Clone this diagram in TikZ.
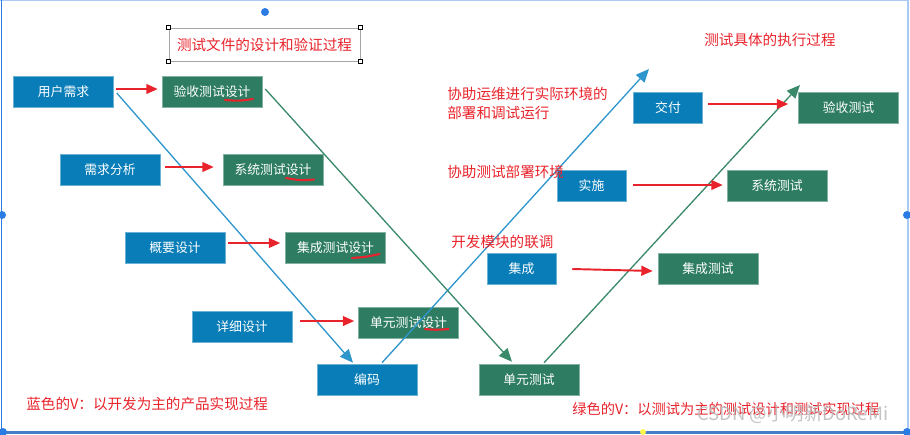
\documentclass[tikz,border=0pt]{standalone}
\usepackage{fontspec}
\setmainfont{Noto Sans CJK SC}
\usetikzlibrary{arrows.meta,calc}
\definecolor{boxblue}{RGB}{8,125,184}
\definecolor{boxgreen}{RGB}{46,125,99}
\definecolor{lineblue}{RGB}{47,150,204}
\definecolor{linegreen}{RGB}{58,138,106}
\definecolor{myred}{RGB}{232,35,43}
\definecolor{selblue}{RGB}{42,123,228}
\tikzset{
  bbox/.style={fill=boxblue, draw=boxblue!60, line width=0.3pt, text=white, font=\fontsize{7.3}{8}\selectfont, minimum width=2cm, minimum height=0.62cm, inner sep=0pt},
  gbox/.style={fill=boxgreen, draw=boxgreen!60, line width=0.3pt, text=white, font=\fontsize{7.3}{8}\selectfont, minimum width=2cm, minimum height=0.62cm, inner sep=0pt},
  smallbox/.style={minimum width=1.38cm},
  redtxt/.style={text=myred, font=\fontsize{8.3}{10.8}\selectfont, inner sep=0pt},
  redarrow/.style={draw=myred, line width=1.1pt, -{Triangle[length=6.5pt,width=5.5pt]}},
  bluearrow/.style={draw=lineblue, line width=0.75pt, -{Triangle[length=7.5pt,width=6.5pt]}},
  greenarrow/.style={draw=linegreen, line width=0.75pt, -{Triangle[length=7.5pt,width=6.5pt]}},
  uline/.style={draw=myred, line width=1.2pt, line cap=round},
  handle/.style={draw=black, fill=white, line width=0.3pt, minimum size=0.08cm, inner sep=0pt},
  seldot/.style={fill=selblue, circle, minimum size=0.16cm, inner sep=0pt},
}
\begin{document}
\begin{tikzpicture}[x=0.02cm,y=-0.02cm]
\useasboundingbox (0,0) rectangle (910,434);
% selection frame
\draw[selblue!40, line width=0.6pt] (0,0.6) -- (908,0.6);
\draw[selblue!40, line width=0.6pt] (908,0) -- (908,432);
\draw[selblue, line width=1pt] (1.5,0) -- (1.5,432);
\draw[selblue!70!gray, line width=1.6pt] (0,432.5) -- (910,432.5);
\node[seldot] (d1) at (265,12) {};
\node[seldot] (d2) at (2,215) {};
\node[seldot] (d3) at (907,215) {};
\node[seldot] (d4) at (3,432) {};
\node[seldot] (d5) at (907,432) {};
\node[seldot, fill=yellow!70!white, minimum size=0.12cm] (d6) at (643,432) {};

% title box
\node[draw=gray!70, line width=0.5pt, minimum width=3.82cm, minimum height=0.66cm, inner sep=0pt] (title) at (264.5,44.5) {};
\node[redtxt] (titletxt) at (title.center) {测试文件的设计和验证过程};
\foreach \c in {north west, north east, south west, south east}{
  \node[handle] at (title.\c) {};
}

% left (blue) boxes
\node[bbox] (u) at (63.5,91.5) {用户需求};
\node[bbox] (xq) at (110,170) {需求分析};
\node[bbox] (gy) at (175,248) {概要设计};
\node[bbox] (xx) at (242,327) {详细设计};
\node[bbox] (code) at (367,379.5) {编码};
% test design (green) boxes
\node[gbox] (ysd) at (212,91.5) {验收测试设计};
\node[gbox] (xtd) at (273,170) {系统测试设计};
\node[gbox] (jcd) at (335.5,248) {集成测试设计};
\node[gbox] (dyd) at (408.5,322.5) {单元测试设计};
% right side
\node[gbox] (dy) at (529,379.5) {单元测试};
\node[bbox, smallbox] (jc) at (521.5,269) {集成};
\node[gbox] (jct) at (708,269) {集成测试};
\node[bbox, smallbox] (ss) at (591.5,186) {实施};
\node[gbox] (xt) at (777,186) {系统测试};
\node[bbox, smallbox] (jf) at (668,107.5) {交付};
\node[gbox] (ys) at (848.5,107.5) {验收测试};

% V lines
\coordinate (bluetop) at (649,69);
\coordinate (greentop) at (800,85);
\draw[bluearrow] ($(u.east)+(3,1.5)$) -- ($(code.north)+(-14,-1)$);
\draw[bluearrow] ($(code.north)+(15,-1)$) -- (bluetop);
\draw[greenarrow] ($(ysd.east)+(3,-2.5)$) -- ($(dy.north)+(-17,-2)$);
\draw[greenarrow] ($(dy.north)+(15,-1)$) -- (greentop);

% red arrows
\draw[redarrow] ($(u.east)+(2,-2.5)$) -- ($(ysd.west)+(-4,-2.5)$);
\draw[redarrow] ($(xq.east)+(5,-3)$) -- ($(xtd.west)+(-9,-3)$);
\draw[redarrow] ($(gy.east)+(3,-5)$) -- ($(jcd.west)+(-5,-5)$);
\draw[redarrow] ($(xx.east)+(8,-6)$) -- ($(dyd.west)+(-4,-1.5)$);
\draw[redarrow] ($(jf.east)+(5,-3.5)$) -- ($(ys.west)+(-10,-3.5)$);
\draw[redarrow] ($(ss.east)+(7,-1)$) -- ($(xt.west)+(-4,-1)$);
\draw[redarrow] ($(jc.east)+(16,0)$) -- ($(jct.west)+(-5,2)$);

% red underlines
\draw[uline] ($(ysd.center)+(13,8.5)$) .. controls ($(ysd.center)+(27,9.5)$) .. ($(ysd.center)+(41,7.5)$);
\draw[uline] ($(xtd.center)+(13,8)$) .. controls ($(xtd.center)+(27,10.5)$) .. ($(xtd.center)+(41,9.5)$);
\draw[uline] ($(jcd.center)+(16.5,10)$) .. controls ($(jcd.center)+(30,9)$) .. ($(jcd.center)+(44,6)$);
\draw[uline] ($(dyd.center)+(16.5,6.5)$) .. controls ($(dyd.center)+(28,7.5)$) .. ($(dyd.center)+(40,6.5)$);

% red labels
\node[redtxt] (exec) at (770,40) {测试具体的执行过程};
\node[redtxt, anchor=west, align=left] (l1) at (447,103.5) {协助运维进行实际环境的\\部署和调试运行};
\node[redtxt, anchor=west] (l2) at (447,172) {协助测试部署环境};
\node[redtxt, anchor=west] (l3) at (451,242) {开发模块的联调};
\node[redtxt, anchor=west] (l4) at (26,404) {蓝色的V：以开发为主的产品实现过程};
\node[redtxt, anchor=west, font=\fontsize{8.1}{10}\selectfont] (l5) at (572,409) {绿色的V：以测试为主的测试设计和测试实现过程};
% watermark
\node[anchor=west, text=gray!55, font=\fontsize{10.5}{12}\selectfont, inner sep=0pt, opacity=0.85] (wm) at (697,414) {CSDN @小明新DoReMi};
\end{tikzpicture}
\end{document}
